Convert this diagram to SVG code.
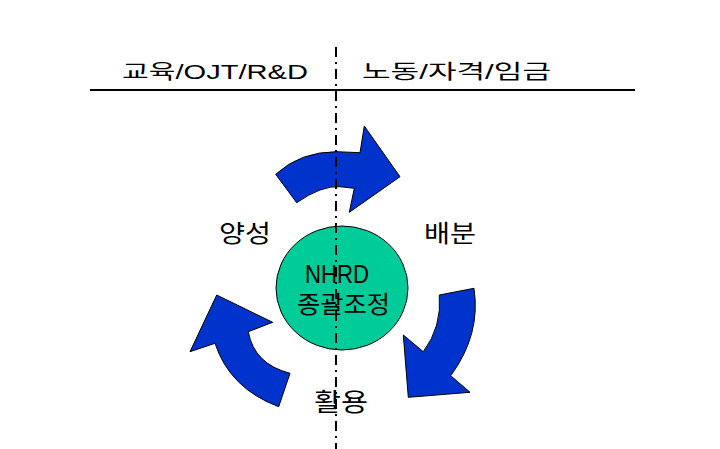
<svg xmlns="http://www.w3.org/2000/svg" width="720" height="449" viewBox="0 0 720 449">
<style>
.arrow{fill:#0033CC;stroke:#000;stroke-width:1;stroke-linejoin:miter}
.lbl{font-family:"Liberation Sans","Noto Sans CJK KR",sans-serif;fill:#000}
</style>
<rect width="720" height="449" fill="#fff"/>
<g id="header">
<text class="lbl" x="122" y="79" font-size="20" textLength="186" lengthAdjust="spacingAndGlyphs">교육/OJT/R&amp;D</text>
<text class="lbl" x="362" y="79" font-size="20" textLength="189" lengthAdjust="spacingAndGlyphs">노동/자격/임금</text>
<line x1="90" y1="90" x2="635" y2="90" stroke="#000" stroke-width="2"/>
</g>
<g id="center">
<ellipse cx="342" cy="288" rx="66" ry="62" fill="#00CC99" stroke="#000" stroke-width="1"/>
<text class="lbl" x="305" y="283" font-size="25" textLength="64" lengthAdjust="spacingAndGlyphs">NHRD</text>
<text class="lbl" x="297" y="313" font-size="24" textLength="93" lengthAdjust="spacingAndGlyphs">종괄조정</text>
</g>
<g id="connectors">
<path id="arrow-top" class="arrow" d="M275.7,174.3 Q300.4,151.6 336.7,151.7 L360,152.7 L364.3,126 L400,176.7 L349.3,212.3 L354.3,188.3 L340,186.7 Q321.6,185.3 296.7,202.7 Z"/>
<path id="arrow-right" class="arrow" d="M439.3,295 L474,288.3 Q481,334.6 450.7,375.7 L470,392.3 L408.3,397.3 L403.3,335 L423.3,351.7 Q442,326.7 439.3,295 Z"/>
<path id="arrow-left" class="arrow" d="M216.7,295 L272.7,322.3 L248.3,331.7 Q254.2,364.1 290,373.3 L278.7,406.7 Q229.7,388.4 215,343.3 L190,351.7 Z"/>
</g>
<line id="axis" x1="336" y1="47" x2="336" y2="449" stroke="#000" stroke-width="2" stroke-dasharray="10 5 2 5"/>
<g id="labels">
<text class="lbl" x="219" y="242" font-size="24" textLength="52" lengthAdjust="spacingAndGlyphs">양성</text>
<text class="lbl" x="424" y="242" font-size="24" textLength="52" lengthAdjust="spacingAndGlyphs">배분</text>
<text class="lbl" x="314" y="411" font-size="25" textLength="54" lengthAdjust="spacingAndGlyphs">활용</text>
</g>
</svg>
